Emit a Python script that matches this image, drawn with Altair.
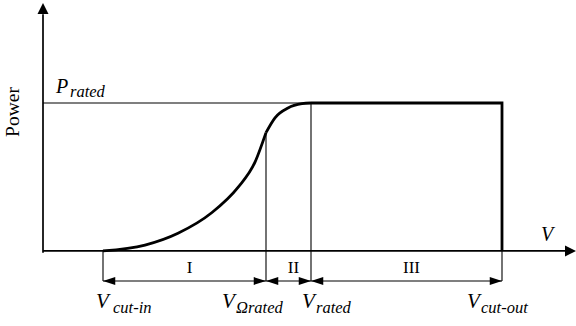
import altair as alt
import pandas as pd

# Characteristic wind speeds (m/s) and normalised power
V_CUT_IN = 3.0
V_OMEGA_RATED = 11.15
V_RATED = 13.4
V_CUT_OUT = 22.95
P_RATED = 1.0

# Region I: power rises with wind speed up to the rotor-speed limit
region1_speed = [3.0, 5.1, 6.75, 8.45, 9.75, 10.6, 11.15]
region1_power = [0.0, 0.04, 0.12, 0.26, 0.43, 0.60, 0.80]

# Region II: constant rotor speed, power levels off at rated
region2_speed = [11.15, 11.6, 12.25, 12.95, 13.4]
region2_power = [0.80, 0.90, 0.966, 0.995, 1.0]

# Region III: rated power until cut-out
region3_speed = [V_RATED, V_CUT_OUT, V_CUT_OUT]
region3_power = [P_RATED, P_RATED, 0.0]

region_names = ["I", "II", "III"]

# Axis extents and the level of the dimension arrows below the axis
V_MIN, V_MAX = -2.15, 26.65
P_MIN, P_MAX = -0.507, 1.696
DIM = -0.203

FONT = "Liberation Serif"

xs = alt.Scale(domain=[V_MIN, V_MAX], nice=False, zero=False)
ys = alt.Scale(domain=[P_MIN, P_MAX], nice=False, zero=False)


def X(f="v"):
    return alt.X(f"{f}:Q", scale=xs, axis=None)


def Y(f="p"):
    return alt.Y(f"{f}:Q", scale=ys, axis=None)


# ---- power curve -------------------------------------------------------
def curve(speed, power, interp):
    df = pd.DataFrame({"v": speed, "p": power, "o": range(len(speed))})
    return alt.Chart(df).mark_line(
        color="black", strokeWidth=2.8, interpolate=interp, strokeCap="butt", strokeJoin="miter"
    ).encode(x=X(), y=Y(), order="o:Q")


reg1 = curve(region1_speed, region1_power, "monotone")
reg2 = curve(region2_speed, region2_power, "monotone")
reg3 = curve(region3_speed, region3_power, "linear")

# ---- thin guide lines ---------------------------------------------------
thin = pd.DataFrame(
    [
        (0.0, P_RATED, V_RATED, P_RATED),
        (V_CUT_IN, 0.0, V_CUT_IN, DIM),
        (V_OMEGA_RATED, region1_power[-1], V_OMEGA_RATED, DIM),
        (V_RATED, P_RATED, V_RATED, DIM),
        (V_CUT_OUT, 0.0, V_CUT_OUT, DIM),
        (V_CUT_IN, DIM, V_CUT_OUT, DIM),
    ],
    columns=["v", "p", "v2", "p2"],
)
guides = alt.Chart(thin).mark_rule(color="black", strokeWidth=1.1).encode(
    x=X(), y=Y(), x2="v2:Q", y2="p2:Q"
)

# ---- axes ---------------------------------------------------------------
axis_df = pd.DataFrame(
    [(0.0, -0.012, 0.0, 1.60), (0.0, 0.0, V_MAX - 0.4, 0.0)],
    columns=["v", "p", "v2", "p2"],
)
axes = alt.Chart(axis_df).mark_rule(color="black", strokeWidth=1.7).encode(
    x=X(), y=Y(), x2="v2:Q", y2="p2:Q"
)

ARROW = "M0,0L-1,-0.5L-1,0.5Z"
axis_heads = alt.Chart(
    pd.DataFrame({"v": [0.0, V_MAX], "p": [1.675, 0.0], "a": [270, 0]})
).mark_point(shape=ARROW, filled=True, size=484, color="black", opacity=1, strokeWidth=0).encode(
    x=X(), y=Y(), angle=alt.Angle("a:Q", scale=None)
)

# ---- dimension arrows ---------------------------------------------------
bounds = [V_CUT_IN, V_OMEGA_RATED, V_RATED, V_CUT_OUT]
heads = []
for a, b in zip(bounds[:-1], bounds[1:]):
    heads.append((a, DIM, 180))
    heads.append((b, DIM, 0))
DIM_ARROW = "M0,0L-1,-0.32L-1,0.32Z"
dim_heads = alt.Chart(pd.DataFrame(heads, columns=["v", "p", "a"])).mark_point(
    shape=DIM_ARROW, filled=True, size=600, color="black", opacity=1, strokeWidth=0
).encode(x=X(), y=Y(), angle=alt.Angle("a:Q", scale=None))

# Region numerals centred over each span
mids = [(a + b) / 2 for a, b in zip(bounds[:-1], bounds[1:])]
numerals = alt.Chart(
    pd.DataFrame({"v": mids, "p": [DIM] * 3, "t": region_names})
).mark_text(font=FONT, fontSize=17, dx=5, dy=-8, baseline="alphabetic", align="center").encode(
    x=X(), y=Y(), text="t:N"
)


# ---- subscripted speed labels -------------------------------------------
def label(v, p, main, sub, dx_main, dy_main, dx_sub, dy_sub, size_main=21, size_sub=16.5):
    df = pd.DataFrame({"v": [v], "p": [p]})
    base = alt.Chart(df).encode(x=X(), y=Y())
    m = base.mark_text(
        text=main, font=FONT, fontStyle="italic", fontSize=size_main,
        align="left", baseline="alphabetic", dx=dx_main, dy=dy_main,
    )
    s = base.mark_text(
        text=sub, font=FONT, fontStyle="italic", fontSize=size_sub,
        align="left", baseline="alphabetic", dx=dx_sub, dy=dy_sub,
    )
    return m + s


labels = (
    label(V_CUT_IN, DIM, "V", "cut-in", -7, 27, 10, 32)
    + label(V_OMEGA_RATED, DIM, "V", "\u03a9rated", -44, 27, -30, 32)
    + label(V_RATED, DIM, "V", "rated", -9, 27, 5, 32)
    + label(V_CUT_OUT, DIM, "V", "cut-out", -35, 27, -21, 32)
    + label(0.0, P_RATED, "P", "rated", 13, -10, 27, -6, size_main=20, size_sub=16.5)
)

v_title = alt.Chart(pd.DataFrame({"v": [V_MAX], "p": [0.0]})).mark_text(
    text="V", font=FONT, fontStyle="italic", fontSize=20, align="left",
    baseline="alphabetic", dx=-35, dy=-10,
).encode(x=X(), y=Y())

p_title = alt.Chart(pd.DataFrame({"v": [-1.5], "p": [0.939]})).mark_text(
    text="Power", font=FONT, fontSize=19.5, angle=270, align="center", baseline="middle",
).encode(x=X(), y=Y())

chart = (
    alt.layer(guides, axes, axis_heads, reg1, reg2, reg3, dim_heads, numerals, labels, v_title, p_title)
    .properties(width=576, height=326, autosize=alt.AutoSizeParams(type="none"), padding=0,
                background="white")
    .configure_view(stroke=None)
)

chart.save("out.html", embed_options={"renderer": "svg", "actions": False})
